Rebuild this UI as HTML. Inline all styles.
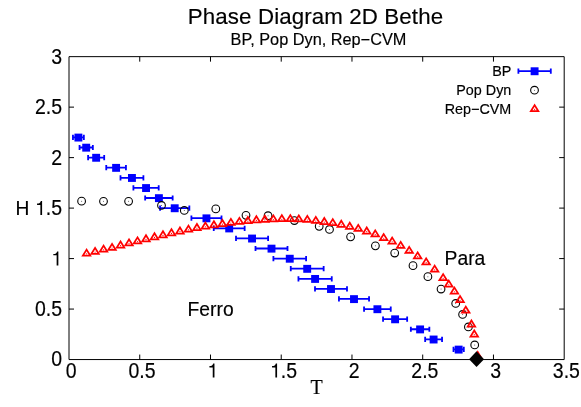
<!DOCTYPE html>
<html><head><meta charset="utf-8"><title>Phase Diagram 2D Bethe</title>
<style>
html,body{margin:0;padding:0;background:#fff;}
body{width:581px;height:407px;overflow:hidden;font-family:"Liberation Sans",sans-serif;}
svg{display:block;will-change:transform;opacity:0.999}
text{font-family:"Liberation Sans",sans-serif;fill:#000;stroke:#000;stroke-width:0.16px}
.serif{font-family:"Liberation Serif",serif}
</style></head><body>
<svg width="581" height="407" viewBox="0 0 581 407">
<rect width="581" height="407" fill="#fff"/>

<text x="187.8" y="24.2" font-size="22.3" textLength="255.3" lengthAdjust="spacing">Phase Diagram 2D Bethe</text>
<text x="230.6" y="44.6" font-size="16.3">BP, Pop Dyn, Rep−CVM</text>
<g stroke="#000" stroke-width="1" fill="none">
<path d="M69.0 56.65H564.2V359.55H69.0Z"/>
<path d="M139.74 359.55v-5M139.74 56.65v5M210.49 359.55v-5M210.49 56.65v5M281.23 359.55v-5M281.23 56.65v5M351.97 359.55v-5M351.97 56.65v5M422.71 359.55v-5M422.71 56.65v5M493.46 359.55v-5M493.46 56.65v5M69.0 309.07h5M564.2 309.07h-5M69.0 258.58h5M564.2 258.58h-5M69.0 208.10h5M564.2 208.10h-5M69.0 157.62h5M564.2 157.62h-5M69.0 107.13h5M564.2 107.13h-5"/>
</g>
<g font-size="19.5" text-anchor="middle">
<text text-anchor="start" transform="translate(65.78,377.50) scale(1,1.1)">0</text>
<text text-anchor="start" transform="translate(128.39,377.50) scale(1,1.1)">0.5</text>
<path d="M271 0L359 0L359 703L296 703C280 620 215 578 101 572L101 508L271 508Z" transform="translate(207.46,377.50) scale(0.01950,-0.0199)" fill="#000"/>
<path d="M271 0L359 0L359 703L296 703C280 620 215 578 101 572L101 508L271 508Z" transform="translate(270.08,377.50) scale(0.01950,-0.0199)" fill="#000"/><text text-anchor="start" transform="translate(280.72,377.50) scale(1,1.1)">.5</text>
<text text-anchor="start" transform="translate(348.75,377.50) scale(1,1.1)">2</text>
<text text-anchor="start" transform="translate(411.36,377.50) scale(1,1.1)">2.5</text>
<text text-anchor="start" transform="translate(490.24,377.50) scale(1,1.1)">3</text>
<text text-anchor="start" transform="translate(552.85,377.50) scale(1,1.1)">3.5</text>
</g>
<g font-size="19.5" text-anchor="end">
<text text-anchor="start" transform="translate(51.16,366.45) scale(1,1.1)">0</text>
<text text-anchor="start" transform="translate(34.89,315.97) scale(1,1.1)">0.5</text>
<path d="M271 0L359 0L359 703L296 703C280 620 215 578 101 572L101 508L271 508Z" transform="translate(51.36,265.48) scale(0.01950,-0.0199)" fill="#000"/>
<path d="M271 0L359 0L359 703L296 703C280 620 215 578 101 572L101 508L271 508Z" transform="translate(35.09,215.00) scale(0.01950,-0.0199)" fill="#000"/><text text-anchor="start" transform="translate(45.74,215.00) scale(1,1.1)">.5</text>
<text text-anchor="start" transform="translate(51.16,164.52) scale(1,1.1)">2</text>
<text text-anchor="start" transform="translate(34.89,114.03) scale(1,1.1)">2.5</text>
<text text-anchor="start" transform="translate(51.16,63.55) scale(1,1.1)">3</text>
</g>
<text transform="translate(15.6,214.75) scale(1,1.07)" font-size="19.2">H</text>
<text class="serif" x="310.6" y="394" font-size="20">T</text>
<text x="187.6" y="316.0" font-size="19.3">Ferro</text>
<text x="444.6" y="265.4" font-size="19.3">Para</text>
<g font-size="14.35" text-anchor="end"><text x="511.3" y="75.6">BP</text><text x="511.3" y="94.7">Pop Dyn</text><text x="511.3" y="113.8">Rep−CVM</text></g>
<path d="M518.40 71.10H550.80M518.40 68.50v5.2M550.80 68.50v5.2" stroke="#0000ff" stroke-width="1.8" fill="none"/><rect x="530.65" y="67.30" width="7.9" height="7.9" fill="#0000ff"/>
<path d="M72.95 137.42H83.85M72.95 134.82v5.2M83.85 134.82v5.2" stroke="#0000ff" stroke-width="1.8" fill="none"/><rect x="74.45" y="133.62" width="7.9" height="7.9" fill="#0000ff"/>
<path d="M79.55 147.52H92.85M79.55 144.92v5.2M92.85 144.92v5.2" stroke="#0000ff" stroke-width="1.8" fill="none"/><rect x="82.25" y="143.72" width="7.9" height="7.9" fill="#0000ff"/>
<path d="M88.10 157.62H104.20M88.10 155.02v5.2M104.20 155.02v5.2" stroke="#0000ff" stroke-width="1.8" fill="none"/><rect x="92.20" y="153.82" width="7.9" height="7.9" fill="#0000ff"/>
<path d="M106.25 167.71H125.95M106.25 165.11v5.2M125.95 165.11v5.2" stroke="#0000ff" stroke-width="1.8" fill="none"/><rect x="112.15" y="163.91" width="7.9" height="7.9" fill="#0000ff"/>
<path d="M120.50 177.81H143.40M120.50 175.21v5.2M143.40 175.21v5.2" stroke="#0000ff" stroke-width="1.8" fill="none"/><rect x="128.00" y="174.01" width="7.9" height="7.9" fill="#0000ff"/>
<path d="M133.40 187.91H158.70M133.40 185.31v5.2M158.70 185.31v5.2" stroke="#0000ff" stroke-width="1.8" fill="none"/><rect x="142.10" y="184.11" width="7.9" height="7.9" fill="#0000ff"/>
<path d="M145.15 198.00H172.65M145.15 195.40v5.2M172.65 195.40v5.2" stroke="#0000ff" stroke-width="1.8" fill="none"/><rect x="154.95" y="194.20" width="7.9" height="7.9" fill="#0000ff"/>
<path d="M160.05 208.10H189.35M160.05 205.50v5.2M189.35 205.50v5.2" stroke="#0000ff" stroke-width="1.8" fill="none"/><rect x="170.75" y="204.30" width="7.9" height="7.9" fill="#0000ff"/>
<path d="M191.40 218.20H221.50M191.40 215.60v5.2M221.50 215.60v5.2" stroke="#0000ff" stroke-width="1.8" fill="none"/><rect x="202.50" y="214.40" width="7.9" height="7.9" fill="#0000ff"/>
<path d="M213.75 228.29H244.65M213.75 225.69v5.2M244.65 225.69v5.2" stroke="#0000ff" stroke-width="1.8" fill="none"/><rect x="225.25" y="224.49" width="7.9" height="7.9" fill="#0000ff"/>
<path d="M236.00 238.39H268.10M236.00 235.79v5.2M268.10 235.79v5.2" stroke="#0000ff" stroke-width="1.8" fill="none"/><rect x="248.10" y="234.59" width="7.9" height="7.9" fill="#0000ff"/>
<path d="M255.50 248.49H287.50M255.50 245.89v5.2M287.50 245.89v5.2" stroke="#0000ff" stroke-width="1.8" fill="none"/><rect x="267.55" y="244.69" width="7.9" height="7.9" fill="#0000ff"/>
<path d="M273.40 258.58H306.10M273.40 255.98v5.2M306.10 255.98v5.2" stroke="#0000ff" stroke-width="1.8" fill="none"/><rect x="285.80" y="254.78" width="7.9" height="7.9" fill="#0000ff"/>
<path d="M290.75 268.68H323.65M290.75 266.08v5.2M323.65 266.08v5.2" stroke="#0000ff" stroke-width="1.8" fill="none"/><rect x="303.25" y="264.88" width="7.9" height="7.9" fill="#0000ff"/>
<path d="M298.45 278.78H331.75M298.45 276.18v5.2M331.75 276.18v5.2" stroke="#0000ff" stroke-width="1.8" fill="none"/><rect x="311.15" y="274.98" width="7.9" height="7.9" fill="#0000ff"/>
<path d="M315.00 288.87H347.00M315.00 286.27v5.2M347.00 286.27v5.2" stroke="#0000ff" stroke-width="1.8" fill="none"/><rect x="327.05" y="285.07" width="7.9" height="7.9" fill="#0000ff"/>
<path d="M338.95 298.97H369.05M338.95 296.37v5.2M369.05 296.37v5.2" stroke="#0000ff" stroke-width="1.8" fill="none"/><rect x="350.05" y="295.17" width="7.9" height="7.9" fill="#0000ff"/>
<path d="M364.05 309.07H390.75M364.05 306.47v5.2M390.75 306.47v5.2" stroke="#0000ff" stroke-width="1.8" fill="none"/><rect x="373.45" y="305.27" width="7.9" height="7.9" fill="#0000ff"/>
<path d="M383.05 319.16H407.15M383.05 316.56v5.2M407.15 316.56v5.2" stroke="#0000ff" stroke-width="1.8" fill="none"/><rect x="391.15" y="315.36" width="7.9" height="7.9" fill="#0000ff"/>
<path d="M410.85 329.26H429.35M410.85 326.66v5.2M429.35 326.66v5.2" stroke="#0000ff" stroke-width="1.8" fill="none"/><rect x="416.15" y="325.46" width="7.9" height="7.9" fill="#0000ff"/>
<path d="M425.15 339.36H442.05M425.15 336.76v5.2M442.05 336.76v5.2" stroke="#0000ff" stroke-width="1.8" fill="none"/><rect x="429.65" y="335.56" width="7.9" height="7.9" fill="#0000ff"/>
<path d="M453.50 349.45H463.80M453.50 346.85v5.2M463.80 346.85v5.2" stroke="#0000ff" stroke-width="1.8" fill="none"/><rect x="454.70" y="345.65" width="7.9" height="7.9" fill="#0000ff"/>
<circle cx="534.50" cy="90.20" r="3.85" fill="none" stroke="#000" stroke-width="1.1"/><circle cx="534.50" cy="90.20" r="0.5" fill="#444"/>
<circle cx="81.60" cy="201.15" r="3.85" fill="none" stroke="#000" stroke-width="1.1"/><circle cx="81.60" cy="201.15" r="0.5" fill="#444"/>
<circle cx="103.50" cy="201.35" r="3.85" fill="none" stroke="#000" stroke-width="1.1"/><circle cx="103.50" cy="201.35" r="0.5" fill="#444"/>
<circle cx="128.60" cy="201.35" r="3.85" fill="none" stroke="#000" stroke-width="1.1"/><circle cx="128.60" cy="201.35" r="0.5" fill="#444"/>
<circle cx="161.50" cy="205.45" r="3.85" fill="none" stroke="#000" stroke-width="1.1"/><circle cx="161.50" cy="205.45" r="0.5" fill="#444"/>
<circle cx="184.30" cy="210.45" r="3.85" fill="none" stroke="#000" stroke-width="1.1"/><circle cx="184.30" cy="210.45" r="0.5" fill="#444"/>
<circle cx="215.80" cy="208.90" r="3.85" fill="none" stroke="#000" stroke-width="1.1"/><circle cx="215.80" cy="208.90" r="0.5" fill="#444"/>
<circle cx="246.00" cy="215.35" r="3.85" fill="none" stroke="#000" stroke-width="1.1"/><circle cx="246.00" cy="215.35" r="0.5" fill="#444"/>
<circle cx="268.05" cy="215.70" r="3.85" fill="none" stroke="#000" stroke-width="1.1"/><circle cx="268.05" cy="215.70" r="0.5" fill="#444"/>
<circle cx="294.40" cy="220.55" r="3.85" fill="none" stroke="#000" stroke-width="1.1"/><circle cx="294.40" cy="220.55" r="0.5" fill="#444"/>
<circle cx="319.20" cy="226.35" r="3.85" fill="none" stroke="#000" stroke-width="1.1"/><circle cx="319.20" cy="226.35" r="0.5" fill="#444"/>
<circle cx="329.50" cy="229.45" r="3.85" fill="none" stroke="#000" stroke-width="1.1"/><circle cx="329.50" cy="229.45" r="0.5" fill="#444"/>
<circle cx="350.60" cy="236.85" r="3.85" fill="none" stroke="#000" stroke-width="1.1"/><circle cx="350.60" cy="236.85" r="0.5" fill="#444"/>
<circle cx="375.40" cy="245.85" r="3.85" fill="none" stroke="#000" stroke-width="1.1"/><circle cx="375.40" cy="245.85" r="0.5" fill="#444"/>
<circle cx="394.70" cy="253.05" r="3.85" fill="none" stroke="#000" stroke-width="1.1"/><circle cx="394.70" cy="253.05" r="0.5" fill="#444"/>
<circle cx="413.00" cy="265.65" r="3.85" fill="none" stroke="#000" stroke-width="1.1"/><circle cx="413.00" cy="265.65" r="0.5" fill="#444"/>
<circle cx="427.90" cy="276.65" r="3.85" fill="none" stroke="#000" stroke-width="1.1"/><circle cx="427.90" cy="276.65" r="0.5" fill="#444"/>
<circle cx="441.05" cy="289.05" r="3.85" fill="none" stroke="#000" stroke-width="1.1"/><circle cx="441.05" cy="289.05" r="0.5" fill="#444"/>
<circle cx="455.70" cy="303.45" r="3.85" fill="none" stroke="#000" stroke-width="1.1"/><circle cx="455.70" cy="303.45" r="0.5" fill="#444"/>
<circle cx="462.60" cy="314.45" r="3.85" fill="none" stroke="#000" stroke-width="1.1"/><circle cx="462.60" cy="314.45" r="0.5" fill="#444"/>
<circle cx="468.40" cy="326.95" r="3.85" fill="none" stroke="#000" stroke-width="1.1"/><circle cx="468.40" cy="326.95" r="0.5" fill="#444"/>
<circle cx="474.70" cy="344.95" r="3.85" fill="none" stroke="#000" stroke-width="1.1"/><circle cx="474.70" cy="344.95" r="0.5" fill="#444"/>
<path d="M534.60 105.10L530.85 111.17H538.35Z" fill="none" stroke="#ff0000" stroke-width="1.75" stroke-miterlimit="10"/><circle cx="534.60" cy="109.30" r="0.6" fill="#ff0000"/>
<path d="M86.58 249.65L82.83 255.72H90.33Z" fill="none" stroke="#ff0000" stroke-width="1.75" stroke-miterlimit="10"/><circle cx="86.58" cy="253.85" r="0.6" fill="#ff0000"/>
<path d="M95.07 247.85L91.32 253.92H98.82Z" fill="none" stroke="#ff0000" stroke-width="1.75" stroke-miterlimit="10"/><circle cx="95.07" cy="252.05" r="0.6" fill="#ff0000"/>
<path d="M103.56 245.65L99.81 251.72H107.31Z" fill="none" stroke="#ff0000" stroke-width="1.75" stroke-miterlimit="10"/><circle cx="103.56" cy="249.85" r="0.6" fill="#ff0000"/>
<path d="M112.05 243.85L108.30 249.92H115.80Z" fill="none" stroke="#ff0000" stroke-width="1.75" stroke-miterlimit="10"/><circle cx="112.05" cy="248.05" r="0.6" fill="#ff0000"/>
<path d="M120.53 241.45L116.78 247.53H124.28Z" fill="none" stroke="#ff0000" stroke-width="1.75" stroke-miterlimit="10"/><circle cx="120.53" cy="245.65" r="0.6" fill="#ff0000"/>
<path d="M129.02 239.40L125.27 245.47H132.77Z" fill="none" stroke="#ff0000" stroke-width="1.75" stroke-miterlimit="10"/><circle cx="129.02" cy="243.60" r="0.6" fill="#ff0000"/>
<path d="M137.51 237.35L133.76 243.42H141.26Z" fill="none" stroke="#ff0000" stroke-width="1.75" stroke-miterlimit="10"/><circle cx="137.51" cy="241.55" r="0.6" fill="#ff0000"/>
<path d="M146.00 235.25L142.25 241.32H149.75Z" fill="none" stroke="#ff0000" stroke-width="1.75" stroke-miterlimit="10"/><circle cx="146.00" cy="239.45" r="0.6" fill="#ff0000"/>
<path d="M154.49 233.25L150.74 239.32H158.24Z" fill="none" stroke="#ff0000" stroke-width="1.75" stroke-miterlimit="10"/><circle cx="154.49" cy="237.45" r="0.6" fill="#ff0000"/>
<path d="M162.98 231.25L159.23 237.32H166.73Z" fill="none" stroke="#ff0000" stroke-width="1.75" stroke-miterlimit="10"/><circle cx="162.98" cy="235.45" r="0.6" fill="#ff0000"/>
<path d="M171.47 229.25L167.72 235.32H175.22Z" fill="none" stroke="#ff0000" stroke-width="1.75" stroke-miterlimit="10"/><circle cx="171.47" cy="233.45" r="0.6" fill="#ff0000"/>
<path d="M179.96 227.45L176.21 233.53H183.71Z" fill="none" stroke="#ff0000" stroke-width="1.75" stroke-miterlimit="10"/><circle cx="179.96" cy="231.65" r="0.6" fill="#ff0000"/>
<path d="M188.45 225.65L184.70 231.72H192.20Z" fill="none" stroke="#ff0000" stroke-width="1.75" stroke-miterlimit="10"/><circle cx="188.45" cy="229.85" r="0.6" fill="#ff0000"/>
<path d="M196.94 223.95L193.19 230.03H200.69Z" fill="none" stroke="#ff0000" stroke-width="1.75" stroke-miterlimit="10"/><circle cx="196.94" cy="228.15" r="0.6" fill="#ff0000"/>
<path d="M205.43 222.55L201.68 228.62H209.18Z" fill="none" stroke="#ff0000" stroke-width="1.75" stroke-miterlimit="10"/><circle cx="205.43" cy="226.75" r="0.6" fill="#ff0000"/>
<path d="M213.92 221.25L210.17 227.32H217.67Z" fill="none" stroke="#ff0000" stroke-width="1.75" stroke-miterlimit="10"/><circle cx="213.92" cy="225.45" r="0.6" fill="#ff0000"/>
<path d="M222.40 219.95L218.65 226.03H226.15Z" fill="none" stroke="#ff0000" stroke-width="1.75" stroke-miterlimit="10"/><circle cx="222.40" cy="224.15" r="0.6" fill="#ff0000"/>
<path d="M230.89 218.85L227.14 224.92H234.64Z" fill="none" stroke="#ff0000" stroke-width="1.75" stroke-miterlimit="10"/><circle cx="230.89" cy="223.05" r="0.6" fill="#ff0000"/>
<path d="M239.38 217.90L235.63 223.97H243.13Z" fill="none" stroke="#ff0000" stroke-width="1.75" stroke-miterlimit="10"/><circle cx="239.38" cy="222.10" r="0.6" fill="#ff0000"/>
<path d="M247.87 216.95L244.12 223.03H251.62Z" fill="none" stroke="#ff0000" stroke-width="1.75" stroke-miterlimit="10"/><circle cx="247.87" cy="221.15" r="0.6" fill="#ff0000"/>
<path d="M256.36 216.20L252.61 222.28H260.11Z" fill="none" stroke="#ff0000" stroke-width="1.75" stroke-miterlimit="10"/><circle cx="256.36" cy="220.40" r="0.6" fill="#ff0000"/>
<path d="M264.85 215.75L261.10 221.82H268.60Z" fill="none" stroke="#ff0000" stroke-width="1.75" stroke-miterlimit="10"/><circle cx="264.85" cy="219.95" r="0.6" fill="#ff0000"/>
<path d="M273.34 215.35L269.59 221.42H277.09Z" fill="none" stroke="#ff0000" stroke-width="1.75" stroke-miterlimit="10"/><circle cx="273.34" cy="219.55" r="0.6" fill="#ff0000"/>
<path d="M281.83 215.15L278.08 221.22H285.58Z" fill="none" stroke="#ff0000" stroke-width="1.75" stroke-miterlimit="10"/><circle cx="281.83" cy="219.35" r="0.6" fill="#ff0000"/>
<path d="M290.32 215.15L286.57 221.22H294.07Z" fill="none" stroke="#ff0000" stroke-width="1.75" stroke-miterlimit="10"/><circle cx="290.32" cy="219.35" r="0.6" fill="#ff0000"/>
<path d="M298.81 215.35L295.06 221.42H302.56Z" fill="none" stroke="#ff0000" stroke-width="1.75" stroke-miterlimit="10"/><circle cx="298.81" cy="219.55" r="0.6" fill="#ff0000"/>
<path d="M307.30 215.85L303.55 221.92H311.05Z" fill="none" stroke="#ff0000" stroke-width="1.75" stroke-miterlimit="10"/><circle cx="307.30" cy="220.05" r="0.6" fill="#ff0000"/>
<path d="M315.79 216.85L312.04 222.92H319.54Z" fill="none" stroke="#ff0000" stroke-width="1.75" stroke-miterlimit="10"/><circle cx="315.79" cy="221.05" r="0.6" fill="#ff0000"/>
<path d="M324.27 217.95L320.52 224.03H328.02Z" fill="none" stroke="#ff0000" stroke-width="1.75" stroke-miterlimit="10"/><circle cx="324.27" cy="222.15" r="0.6" fill="#ff0000"/>
<path d="M332.76 219.15L329.01 225.22H336.51Z" fill="none" stroke="#ff0000" stroke-width="1.75" stroke-miterlimit="10"/><circle cx="332.76" cy="223.35" r="0.6" fill="#ff0000"/>
<path d="M341.25 220.75L337.50 226.82H345.00Z" fill="none" stroke="#ff0000" stroke-width="1.75" stroke-miterlimit="10"/><circle cx="341.25" cy="224.95" r="0.6" fill="#ff0000"/>
<path d="M349.74 222.75L345.99 228.82H353.49Z" fill="none" stroke="#ff0000" stroke-width="1.75" stroke-miterlimit="10"/><circle cx="349.74" cy="226.95" r="0.6" fill="#ff0000"/>
<path d="M358.23 224.85L354.48 230.92H361.98Z" fill="none" stroke="#ff0000" stroke-width="1.75" stroke-miterlimit="10"/><circle cx="358.23" cy="229.05" r="0.6" fill="#ff0000"/>
<path d="M366.72 227.45L362.97 233.53H370.47Z" fill="none" stroke="#ff0000" stroke-width="1.75" stroke-miterlimit="10"/><circle cx="366.72" cy="231.65" r="0.6" fill="#ff0000"/>
<path d="M375.21 230.35L371.46 236.42H378.96Z" fill="none" stroke="#ff0000" stroke-width="1.75" stroke-miterlimit="10"/><circle cx="375.21" cy="234.55" r="0.6" fill="#ff0000"/>
<path d="M383.70 234.05L379.95 240.12H387.45Z" fill="none" stroke="#ff0000" stroke-width="1.75" stroke-miterlimit="10"/><circle cx="383.70" cy="238.25" r="0.6" fill="#ff0000"/>
<path d="M392.19 237.55L388.44 243.62H395.94Z" fill="none" stroke="#ff0000" stroke-width="1.75" stroke-miterlimit="10"/><circle cx="392.19" cy="241.75" r="0.6" fill="#ff0000"/>
<path d="M400.68 241.85L396.93 247.92H404.43Z" fill="none" stroke="#ff0000" stroke-width="1.75" stroke-miterlimit="10"/><circle cx="400.68" cy="246.05" r="0.6" fill="#ff0000"/>
<path d="M409.17 246.85L405.42 252.92H412.92Z" fill="none" stroke="#ff0000" stroke-width="1.75" stroke-miterlimit="10"/><circle cx="409.17" cy="251.05" r="0.6" fill="#ff0000"/>
<path d="M417.65 252.35L413.90 258.43H421.40Z" fill="none" stroke="#ff0000" stroke-width="1.75" stroke-miterlimit="10"/><circle cx="417.65" cy="256.55" r="0.6" fill="#ff0000"/>
<path d="M426.14 258.40L422.39 264.48H429.89Z" fill="none" stroke="#ff0000" stroke-width="1.75" stroke-miterlimit="10"/><circle cx="426.14" cy="262.60" r="0.6" fill="#ff0000"/>
<path d="M434.63 265.65L430.88 271.73H438.38Z" fill="none" stroke="#ff0000" stroke-width="1.75" stroke-miterlimit="10"/><circle cx="434.63" cy="269.85" r="0.6" fill="#ff0000"/>
<path d="M443.12 274.10L439.37 280.18H446.87Z" fill="none" stroke="#ff0000" stroke-width="1.75" stroke-miterlimit="10"/><circle cx="443.12" cy="278.30" r="0.6" fill="#ff0000"/>
<path d="M448.78 280.55L445.03 286.62H452.53Z" fill="none" stroke="#ff0000" stroke-width="1.75" stroke-miterlimit="10"/><circle cx="448.78" cy="284.75" r="0.6" fill="#ff0000"/>
<path d="M454.44 287.55L450.69 293.62H458.19Z" fill="none" stroke="#ff0000" stroke-width="1.75" stroke-miterlimit="10"/><circle cx="454.44" cy="291.75" r="0.6" fill="#ff0000"/>
<path d="M460.10 296.05L456.35 302.12H463.85Z" fill="none" stroke="#ff0000" stroke-width="1.75" stroke-miterlimit="10"/><circle cx="460.10" cy="300.25" r="0.6" fill="#ff0000"/>
<path d="M465.76 306.65L462.01 312.73H469.51Z" fill="none" stroke="#ff0000" stroke-width="1.75" stroke-miterlimit="10"/><circle cx="465.76" cy="310.85" r="0.6" fill="#ff0000"/>
<path d="M471.42 320.45L467.67 326.53H475.17Z" fill="none" stroke="#ff0000" stroke-width="1.75" stroke-miterlimit="10"/><circle cx="471.42" cy="324.65" r="0.6" fill="#ff0000"/>
<path d="M474.25 330.45L470.50 336.53H478.00Z" fill="none" stroke="#ff0000" stroke-width="1.75" stroke-miterlimit="10"/><circle cx="474.25" cy="334.65" r="0.6" fill="#ff0000"/>
<path d="M477.70 351.95L473.95 358.02H481.45Z" fill="none" stroke="#ff0000" stroke-width="1.75" stroke-miterlimit="10"/><circle cx="477.70" cy="356.15" r="0.6" fill="#ff0000"/>
<path d="M476.55 351.3L469.05 359.2L476.55 367.09999999999997L484.05 359.2Z" fill="#000"/>
</svg></body></html>
